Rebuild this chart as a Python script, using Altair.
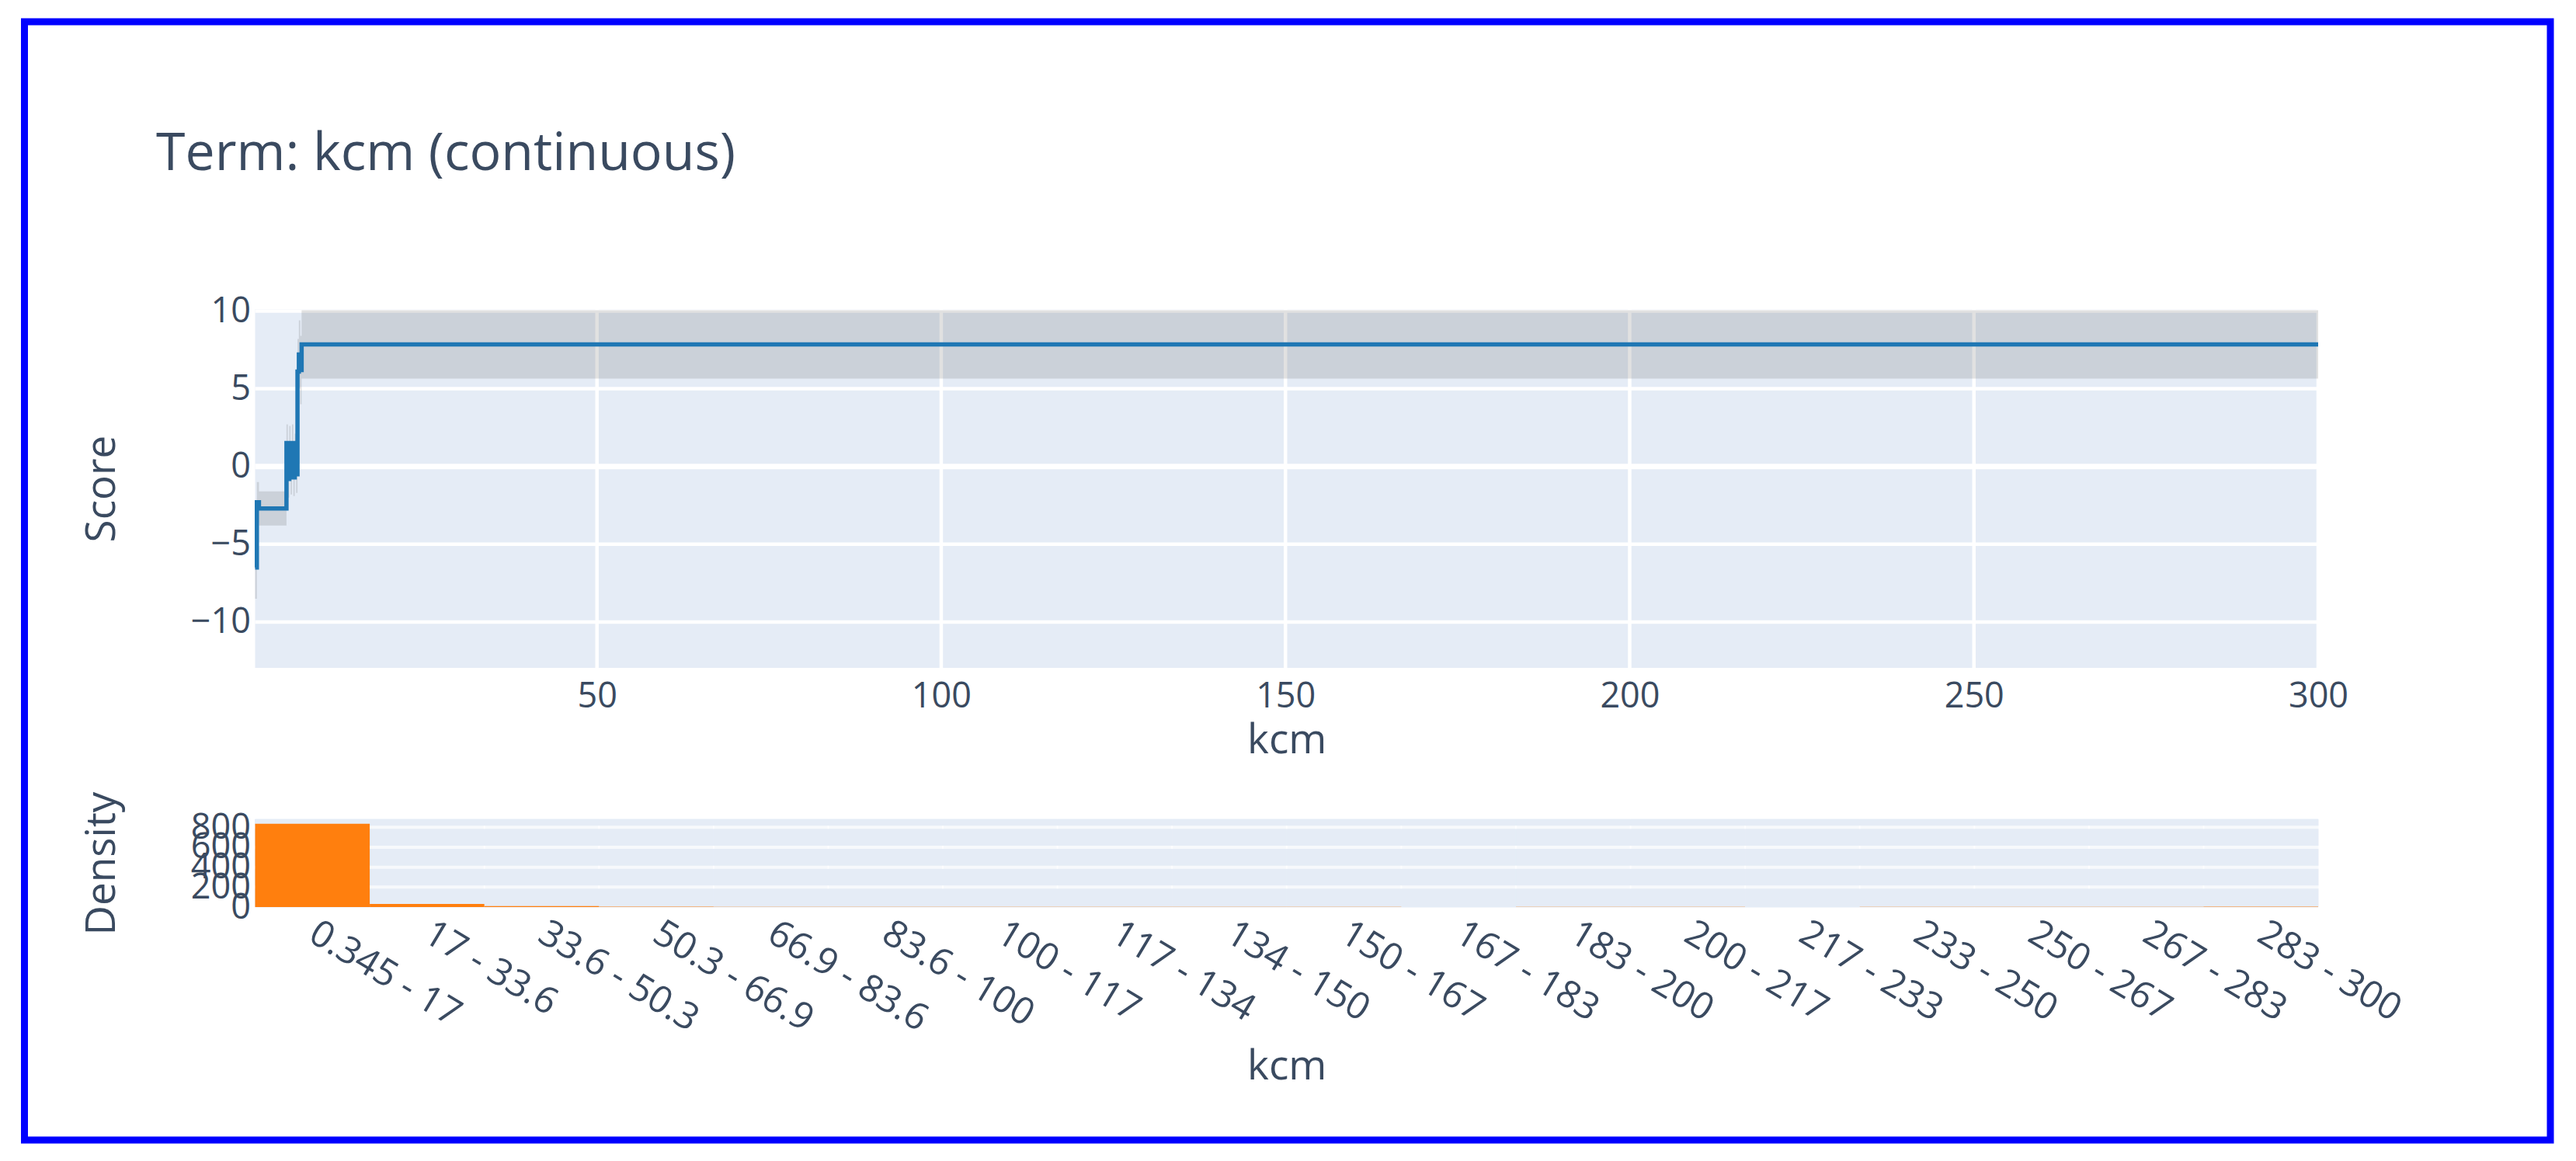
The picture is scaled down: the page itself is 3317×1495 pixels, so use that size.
import altair as alt
import pandas as pd

# ---------------- data ----------------
TITLE = "Term: kcm (continuous)"
FEATURE = "kcm"

# step-shaped shape function of the term (x = kcm, y = score) with its error band
score_x = [0.345, 0.6, 0.9, 4.9, 5.1, 5.3, 5.5, 5.7, 5.9, 6.1, 6.3, 6.5, 6.7, 6.9, 7.1, 300.0]
score_y = [-6.5, -2.3, -2.7, 1.5, -0.8, 1.4, -0.6, 1.5, -0.7, 0.9, -0.5, 6.1, 7.2, 6.2, 7.85, 7.85]
score_lo = [-8.5, -3.6, -3.8, 0.3, -2.0, 0.2, -1.8, 0.3, -1.9, -0.3, -1.7, 4.0, 5.0, 4.0, 5.65, 5.65]
score_hi = [-4.5, -1.0, -1.6, 2.7, 0.4, 2.6, 0.6, 2.7, 0.5, 2.1, 0.7, 8.2, 9.4, 8.4, 10.05, 10.05]

# density histogram
bin_labels = ["0.345 - 17", "17 - 33.6", "33.6 - 50.3", "50.3 - 66.9", "66.9 - 83.6",
              "83.6 - 100", "100 - 117", "117 - 134", "134 - 150", "150 - 167",
              "167 - 183", "183 - 200", "200 - 217", "217 - 233", "233 - 250",
              "250 - 267", "267 - 283", "283 - 300"]
bin_counts = [835, 32, 9, 4, 2, 2, 1, 1, 1, 1, 0, 1, 1, 0, 1, 1, 1, 4]

x_tick_values = [50, 100, 150, 200, 250, 300]
score_tick_values = [-10, -5, 0, 5, 10]
density_tick_values = [0, 200, 400, 600, 800]
density_grid_values = [200, 400, 600, 800]

x_domain = [0.345, 300]
score_domain = [-12.95, 10.12]
density_domain = [0, 880]

# ---------------- layout (pixels inside the framed view) ----------------
VIEW_W, VIEW_H = 3252.5, 1440
PLOT_L, PLOT_R = 297.0, 2953.5
TOP_T, TOP_B = 370.0, 832.0
BOT_T, BOT_B = 1027.0, 1140.0
BAND_W = (PLOT_R - PLOT_L) / len(bin_labels)

FONT = "Open Sans"
TEXT = "#3a4a60"
BG = "#E5ECF6"

# ---------------- tables ----------------
score_df = pd.DataFrame({"x": score_x, "y": score_y, "lo": score_lo, "hi": score_hi})
top_bg_df = pd.DataFrame({"x": [x_domain[0]], "x2": [x_domain[1]],
                          "y": [score_domain[0]], "y2": [score_domain[1]]})
vgrid_df = pd.DataFrame({"x": x_tick_values,
                         "y": [score_domain[0]] * len(x_tick_values),
                         "y2": [score_domain[1]] * len(x_tick_values)})
hgrid_df = pd.DataFrame({"y": score_tick_values,
                         "x": [x_domain[0]] * len(score_tick_values),
                         "x2": [x_domain[1]] * len(score_tick_values),
                         "w": [7 if v == 0 else 4.5 for v in score_tick_values]})

hist_df = pd.DataFrame({"bin": bin_labels, "count": bin_counts})
bot_bg_df = pd.DataFrame({"bin": bin_labels, "count": [density_domain[1]] * len(bin_labels)})
bot_grid_df = pd.DataFrame([{"bin": b, "count": g} for g in density_grid_values for b in bin_labels])

# ---------------- scales & axes ----------------
xs_top = alt.Scale(domain=x_domain, range=[PLOT_L, PLOT_R], nice=False, zero=False)
ys_top = alt.Scale(domain=score_domain, range=[TOP_B, TOP_T], nice=False, zero=False)
xs_bot = alt.Scale(domain=bin_labels, range=[PLOT_L, PLOT_R], paddingInner=0, paddingOuter=0)
ys_bot = alt.Scale(domain=density_domain, range=[BOT_B, BOT_T], nice=False)

axis_common = dict(labelFont=FONT, labelColor=TEXT, labelFontSize=45, labelLimit=2000,
                   titleFont=FONT, titleColor=TEXT, titleFontSize=53, titleFontWeight="normal",
                   ticks=False, domain=False, grid=False, labelFlush=False, labelOverlap=False,
                   titleBaseline="alphabetic")

x_top_axis = alt.Axis(orient="bottom", offset=-(VIEW_H - TOP_B), values=x_tick_values,
                      labelPadding=14, title=FEATURE, titleY=109.5, **axis_common)
y_top_axis = alt.Axis(orient="left", offset=-PLOT_L, values=score_tick_values,
                      labelPadding=6, title="Score", titleX=-181, **axis_common)
bot_x_common = dict(axis_common, labelFontSize=48)
x_bot_axis = alt.Axis(orient="bottom", offset=-(VIEW_H - BOT_B), labelAngle=31,
                      labelAlign="left", labelBaseline="middle", labelPadding=30,
                      title=FEATURE, titleY=221.5, **bot_x_common)
y_bot_axis = alt.Axis(orient="left", offset=-PLOT_L, values=density_tick_values,
                      labelPadding=6, title="Density", titleX=-181, **axis_common)


def tx(field):
    return alt.X(field, scale=xs_top, axis=x_top_axis, title=FEATURE)


def ty(field):
    return alt.Y(field, scale=ys_top, axis=y_top_axis, title="Score")


def bx(field):
    return alt.X(field, scale=xs_bot, axis=x_bot_axis, title=FEATURE)


def by(field):
    return alt.Y(field, scale=ys_bot, axis=y_bot_axis, title="Density", stack=None)


# ---------------- top panel: shape function ----------------
top_bg = alt.Chart(top_bg_df).mark_rect(color=BG).encode(
    x=tx("x:Q"), x2="x2", y=ty("y:Q"), y2="y2")

vgrid = alt.Chart(vgrid_df).mark_rule(color="white", strokeWidth=4.5).encode(
    x=tx("x:Q"), y=ty("y:Q"), y2="y2")

hgrid = alt.Chart(hgrid_df).mark_rule(color="white").encode(
    y=ty("y:Q"), x=tx("x:Q"), x2="x2",
    strokeWidth=alt.StrokeWidth("w:Q", scale=None))

band = alt.Chart(score_df).mark_area(interpolate="step-after", color="#444444", opacity=0.16).encode(
    x=tx("x:Q"), y=ty("lo:Q"), y2="hi")

line = alt.Chart(score_df).mark_line(interpolate="step-after", color="#1f77b4", strokeWidth=5.5).encode(
    x=tx("x:Q"), y=ty("y:Q"))

top = alt.layer(top_bg, vgrid, hgrid, band, line)

# ---------------- bottom panel: density ----------------
bot_bg = alt.Chart(bot_bg_df).mark_bar(color=BG, stroke=BG, strokeWidth=1).encode(
    x=bx("bin:N"), y=by("count:Q"))

bot_grid = alt.Chart(bot_grid_df).mark_tick(orient="horizontal", color="white",
                                            thickness=4, size=BAND_W + 2).encode(
    x=bx("bin:N"), y=by("count:Q"))

bars = alt.Chart(hist_df).mark_bar(color="#ff7f0e").encode(
    x=bx("bin:N"), y=by("count:Q"))

bottom = alt.layer(bot_bg, bot_grid, bars)

chart = alt.layer(top, bottom).resolve_scale(
    x="independent", y="independent"
).properties(
    width=VIEW_W, height=VIEW_H,
    padding={"left": 23.5, "top": 20, "right": 20, "bottom": 10},
    autosize=alt.AutoSizeParams(type="none"),
    title=alt.TitleParams(text=TITLE, anchor="start", frame="group", orient="top",
                          offset=0, dx=169.5, dy=258.5, baseline="alphabetic",
                          font=FONT, fontSize=68, fontWeight="normal", color=TEXT),
).configure_view(
    stroke="#0000ff", strokeWidth=9
)

chart.save("out.html", embed_options={"renderer": "svg", "actions": False})
